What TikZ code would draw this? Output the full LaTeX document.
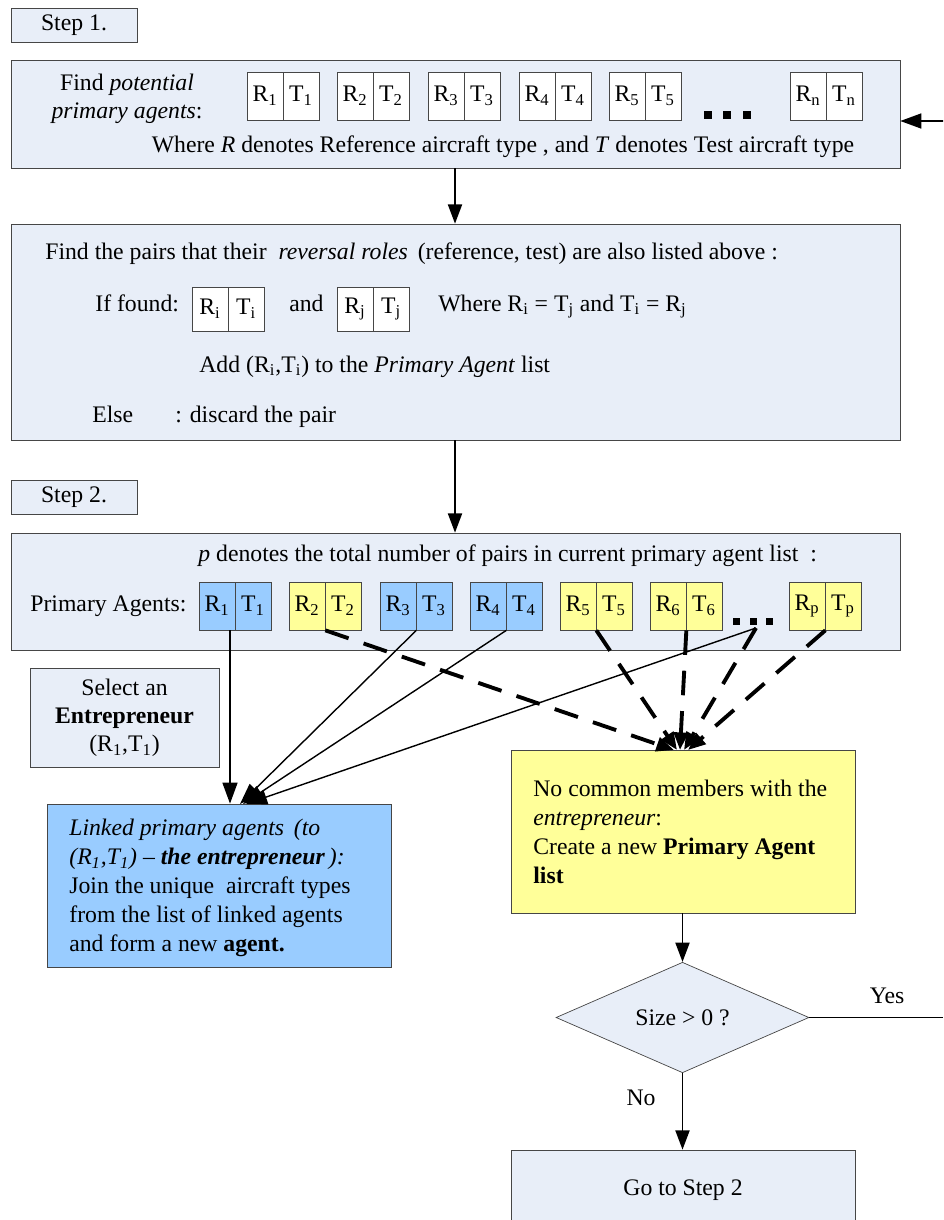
\documentclass[tikz,border=0pt]{standalone}
\usepackage{fontspec}
\setmainfont{Liberation Serif}
\usetikzlibrary{shapes.geometric,arrows.meta,positioning}
\definecolor{boxblue}{RGB}{232,238,248}
\definecolor{agentblue}{RGB}{153,204,255}
\definecolor{agentyellow}{RGB}{255,255,153}
\definecolor{edgegray}{RGB}{70,70,70}

\begin{document}
\begin{tikzpicture}[x=0.02cm,y=-0.02cm, font=\fontsize{13.5}{16.5}\selectfont,
		panel/.style={draw=edgegray, fill=boxblue, inner sep=0pt},
		half/.style={draw=edgegray, fill=white, minimum width=0.72cm,
			minimum height=0.96cm, inner sep=0pt},
		txt/.style={anchor=base west, inner sep=0pt},
		arrow/.style={-{Triangle[length=11pt,width=8pt]}, line width=1.1pt},
		thinarrow/.style={-{Triangle[length=12pt,width=8.5pt]}, line width=0.8pt},
		dasharrow/.style={-{Triangle[length=10pt,width=8pt]}, line width=2.2pt,
			dash pattern=on 14pt off 9pt}
	]
		\clip (0,0) rectangle (943,1220);
		% step 1
		\node[panel, minimum width=2.52cm, minimum height=0.68cm] (step1) at (74,25) {Step 1.};
		\node[panel, minimum width=17.78cm, minimum height=2.16cm] (box1) at (455.5,114) {};
		\node[align=center, inner sep=0pt, font=\fontsize{13.5}{16}\selectfont] (find) at (127,99)
			{Find \textit{potential}\\\textit{primary agents}:};
		\foreach \x/\i in {247/1,337/2,428/3,519/4,609/5}{
			\node[half] (r\i) at (\x+18,96) {R\textsubscript{\i}};
			\node[half] (t\i) at (\x+54,96) {T\textsubscript{\i}};
		}
		\node[half] (rn) at (808,96) {R\textsubscript{n}};
		\node[half] (tn) at (844,96) {T\textsubscript{n}};
		\foreach \x in {708,727,747}
			\fill (\x-4,111) rectangle (\x+4,119);
		\node[txt, anchor=base] (where) at (503,153)
			{Where \textit{R} denotes Reference aircraft type , and \textit{T} denotes Test aircraft type};
		\coordinate (back) at (965,121);
		\draw[thinarrow, line width=1.1pt] (back) -- (box1.east |- back);

		% reversal check
		\node[panel, minimum width=17.78cm, minimum height=4.32cm] (box2) at (455.5,332) {};
		\draw[arrow] (box1.south -| 455,0) -- (box2.north -| 455,0);
		\node[txt] (pairs) at (45,259)
			{Find the pairs that their \ \textit{reversal roles} \,(reference, test) are also listed above :};
		\node[txt] (iffound) at (95,311) {If found:};
		\node[half, minimum height=0.88cm] (ri) at (210,309) {R\textsubscript{i}};
		\node[half, minimum height=0.88cm] (ti) at (246,309) {T\textsubscript{i}};
		\node[txt] (and) at (289,311) {and};
		\node[half, minimum height=0.88cm] (rj) at (355,309) {R\textsubscript{j}};
		\node[half, minimum height=0.88cm] (tj) at (391,309) {T\textsubscript{j}};
		\node[txt] (cond) at (438,311)
			{Where R\textsubscript{i} = T\textsubscript{j} and T\textsubscript{i} = R\textsubscript{j}};
		\node[txt] (add) at (199,372)
			{Add (R\textsubscript{i},T\textsubscript{i}) to the \textit{Primary Agent} list};
		\node[txt] (else) at (92,422) {Else};
		\node[txt] (discard) at (175,422) {: discard the pair};

		% step 2
		\node[panel, minimum width=2.52cm, minimum height=0.68cm] (step2) at (74,497) {Step 2.};
		\node[panel, minimum width=17.78cm, minimum height=2.34cm] (box3) at (455.5,591.5) {};
		\draw[arrow] (box2.south -| 455,0) -- (box3.north -| 455,0);
		\node[txt] (pnote) at (198,561)
			{\textit{p} denotes the total number of pairs in current primary agent list \ :};
		\node[txt] (plabel) at (30,611) {Primary Agents:};
		\foreach \x/\i/\c in {199/1/agentblue,289/2/agentyellow,380/3/agentblue,
				470/4/agentblue,560/5/agentyellow,650/6/agentyellow}{
			\node[half, fill=\c] (pr\i) at (\x+18,606) {R\textsubscript{\i}};
			\node[half, fill=\c] (pt\i) at (\x+54,606) {T\textsubscript{\i}};
		}
		\node[half, fill=agentyellow] (prp) at (807,606) {R\textsubscript{p}};
		\node[half, fill=agentyellow] (ptp) at (843,606) {T\textsubscript{p}};
		\foreach \x in {736,753,769}
			\fill (\x-3.5,617.5) rectangle (\x+3.5,624.5);
		\coordinate (pdots) at (756,628);

		% outcome boxes
		\node[panel, minimum width=3.78cm, minimum height=1.98cm, align=center,
			font=\fontsize{13.5}{16}\selectfont] (select) at (124.5,717.5)
			{Select an\\\textbf{Entrepreneur}\\(R\textsubscript{1},T\textsubscript{1})};
		\node[panel, fill=agentblue, minimum width=6.88cm, minimum height=3.26cm] (linked) at (219,885.5) {};
		\node[anchor=north west, align=left, inner sep=0pt] (linkedtxt) at (69,819)
			{\textit{Linked primary agents \,(to}\\
			\textit{(R\textsubscript{1},T\textsubscript{1}) -- \textbf{the entrepreneur}\,):}\\
			Join the unique \ aircraft types\\
			from the list of linked agents\\
			and form a new \textbf{agent.}};
		\node[panel, fill=agentyellow, minimum width=6.88cm, minimum height=3.26cm] (nocommon) at (683,831.5) {};
		\node[anchor=north west, align=left, inner sep=0pt] (nocommontxt) at (533,780)
			{No common members with the\\
			\textit{entrepreneur}:\\
			Create a new \textbf{Primary Agent}\\
			\textbf{list}};

		\draw[thinarrow, line width=1.1pt] (pr1.south east -| 230,0) -- (linked.north -| 230,0);
		\draw[thinarrow] (pr3.south east) -- (240,804);
		\draw[thinarrow] (pr4.south east) -- (243,804);
		\draw[thinarrow] (pdots) -- (246,804);
		\draw[dasharrow] (pr2.south east) -- (674,750);
		\draw[dasharrow] (pr5.south east) -- (677,750);
		\draw[dasharrow] (pr6.south east) -- (680,750);
		\draw[dasharrow] (pdots) -- (684,750);
		\draw[dasharrow] (prp.south east) -- (688,750);

		% decision
		\node[diamond, draw=edgegray, fill=boxblue, minimum width=5.06cm, minimum height=2.14cm,
			inner sep=0pt] (size) at (682.5,1017.5) {Size > 0 ?};
		\draw[arrow] (nocommon.south -| size.north) -- (size.north);
		\node[panel, minimum width=6.88cm, minimum height=1.6cm] (goto) at (683,1190) {Go to Step 2};
		\draw[arrow] (size.south) -- (goto.north -| size.south);
		\coordinate (yesend) at (943,1021);
		\draw[line width=1.1pt] (size.east) -- (size.east -| yesend);
		\node (yes) at (887,996) {Yes};
		\node (no) at (641,1098) {No};
	\end{tikzpicture}
\end{document}
